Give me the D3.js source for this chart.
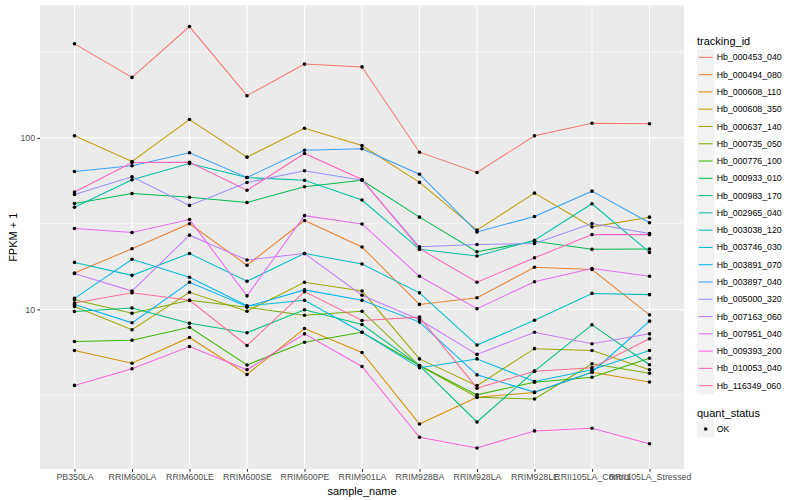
<!DOCTYPE html>
<html>
<head>
<meta charset="utf-8">
<script src="https://cdn.jsdelivr.net/npm/d3@7"></script>
<style>
  html, body { margin: 0; padding: 0; background: #ffffff; }
  svg { display: block; }
  text { font-family: "Liberation Sans", Arial, Helvetica, sans-serif; }
</style>
</head>
<body>
<svg id="chart" width="800" height="500"></svg>
<script>
// ---------------- data ----------------
const samples = ["PB350LA", "RRIM600LA", "RRIM600LE", "RRIM600SE", "RRIM600PE", "RRIM901LA",
  "RRIM928BA", "RRIM928LA", "RRIM928LE", "RRII105LA_Control", "RRII105LA_Stressed"];

const trackingIds = ["Hb_000453_040", "Hb_000494_080", "Hb_000608_110", "Hb_000608_350",
  "Hb_000637_140", "Hb_000735_050", "Hb_000776_100", "Hb_000933_010", "Hb_000983_170",
  "Hb_002965_040", "Hb_003038_120", "Hb_003746_030", "Hb_003891_070", "Hb_003897_040",
  "Hb_005000_320", "Hb_007163_060", "Hb_007951_040", "Hb_009393_200", "Hb_010053_040",
  "Hb_116349_060"];

const seriesColors = ["#F8766D", "#EA8331", "#D89000", "#C09B00", "#A3A500", "#7CAE00",
  "#39B600", "#00BB4E", "#00BF7D", "#00C1A3", "#00BFC4", "#00BAE0", "#00B0F6", "#35A2FF",
  "#9590FF", "#C77CFF", "#E76BF3", "#FA62DB", "#FF62BC", "#FF6C91"];

// FPKM + 1 per sample (same order as samples)
const v_000453_040 = [353, 225, 445, 176, 269, 259, 82.5, 62.8, 102.7, 121.7, 120.7];
const v_000494_080 = [16.3, 22.6, 31.6, 18.1, 33.0, 23.1, 10.7, 11.7, 17.6, 17.1, 9.3];
const v_000608_110 = [5.77, 4.86, 6.87, 4.18, 7.74, 5.61, 2.15, 3.08, 3.28, 4.31, 3.78];
const v_000608_350 = [102.7, 72.8, 127.8, 77.2, 113.8, 90.2, 55.0, 29.0, 47.6, 30.3, 34.5];
const v_000637_140 = [10.4, 7.62, 12.6, 9.77, 14.4, 12.8, 5.15, 3.60, 5.91, 5.77, 4.45];
const v_000735_050 = [11.4, 9.51, 11.3, 10.3, 9.26, 9.77, 4.71, 3.08, 3.01, 4.82, 4.25];
const v_000776_100 = [6.50, 6.62, 7.88, 4.75, 6.44, 7.37, 4.71, 3.18, 3.77, 4.03, 5.20];
const v_000933_010 = [41.4, 47.4, 45.1, 42.0, 51.9, 56.6, 34.5, 21.7, 25.0, 22.4, 22.5];
const v_000983_170 = [9.73, 10.2, 8.32, 7.32, 9.96, 8.17, 4.71, 2.21, 4.37, 8.14, 4.76];
const v_002965_040 = [39.4, 56.9, 70.8, 58.7, 56.6, 43.4, 22.4, 20.5, 25.3, 41.3, 21.5];
const v_003038_120 = [18.8, 15.8, 21.2, 14.6, 21.2, 18.4, 12.5, 6.2, 8.65, 12.4, 12.2];
const v_003746_030 = [11.6, 19.6, 15.4, 10.5, 11.3, 7.37, 4.57, 5.15, 3.80, 4.45, 5.77];
const v_003891_070 = [10.7, 8.36, 14.4, 10.4, 13.0, 11.3, 8.44, 4.16, 3.30, 4.31, 8.55];
const v_003897_040 = [63.7, 68.7, 81.8, 58.7, 84.7, 86.3, 61.4, 28.3, 34.8, 48.9, 32.0];
const v_005000_320 = [46.8, 59.3, 40.4, 54.9, 64.3, 56.6, 23.2, 23.9, 24.2, 31.7, 27.7];
const v_007163_060 = [16.2, 12.8, 27.1, 19.4, 21.2, 12.1, 8.7, 5.47, 7.37, 6.31, 7.21];
const v_007951_040 = [29.6, 28.1, 33.4, 12.0, 35.2, 31.5, 15.6, 10.1, 14.5, 17.3, 15.6];
const v_009393_200 = [3.61, 4.51, 6.08, 4.45, 7.21, 4.65, 1.80, 1.56, 1.96, 2.03, 1.65];
const v_010053_040 = [48.4, 71.8, 72.1, 49.5, 81.1, 57.2, 22.6, 14.4, 20.0, 27.3, 27.3];
const v_116349_060 = [10.9, 12.5, 11.3, 6.17, 12.7, 8.62, 9.02, 3.48, 4.37, 4.57, 6.75];

const seriesValues = [v_000453_040, v_000494_080, v_000608_110, v_000608_350, v_000637_140,
  v_000735_050, v_000776_100, v_000933_010, v_000983_170, v_002965_040, v_003038_120,
  v_003746_030, v_003891_070, v_003897_040, v_005000_320, v_007163_060, v_007951_040,
  v_009393_200, v_010053_040, v_116349_060];

const yMajorTicks = [10, 100];
const yMinorTicks = [Math.pow(10, 0.5), Math.pow(10, 1.5), Math.pow(10, 2.5)];
const quantStatus = ["OK"];

// ---------------- layout ----------------
const W = 800, H = 500;
const panel = { left: 40, right: 684, top: 5.5, bottom: 469 };

const svg = d3.select("#chart");

const series = trackingIds.map((id, i) => ({
  id, color: seriesColors[i],
  points: samples.map((s, j) => ({ sample: s, value: seriesValues[i][j] }))
}));

const allVals = seriesValues.flat();
const lmin = Math.log10(d3.min(allVals)), lmax = Math.log10(d3.max(allVals));
const ex = (lmax - lmin) * 0.05;

const x = d3.scalePoint().domain(samples).range([panel.left, panel.right]).padding(0.6);
const y = d3.scaleLog().domain([Math.pow(10, lmin - ex), Math.pow(10, lmax + ex)])
  .range([panel.bottom, panel.top]);

// panel background
svg.append("rect")
  .attr("x", panel.left).attr("y", panel.top)
  .attr("width", panel.right - panel.left).attr("height", panel.bottom - panel.top)
  .attr("fill", "#EBEBEB");

const grid = svg.append("g");
grid.selectAll("line.minor").data(yMinorTicks).enter().append("line")
  .attr("x1", panel.left).attr("x2", panel.right)
  .attr("y1", d => y(d)).attr("y2", d => y(d))
  .attr("stroke", "#ffffff").attr("stroke-width", 0.53);
grid.selectAll("line.major").data(yMajorTicks).enter().append("line")
  .attr("x1", panel.left).attr("x2", panel.right)
  .attr("y1", d => y(d)).attr("y2", d => y(d))
  .attr("stroke", "#ffffff").attr("stroke-width", 1.07);
grid.selectAll("line.xmajor").data(samples).enter().append("line")
  .attr("x1", d => x(d)).attr("x2", d => x(d))
  .attr("y1", panel.top).attr("y2", panel.bottom)
  .attr("stroke", "#ffffff").attr("stroke-width", 1.07);

// lines
const line = d3.line().x(d => x(d.sample)).y(d => y(d.value));
svg.append("g").selectAll("path").data(series).enter().append("path")
  .attr("d", d => line(d.points))
  .attr("fill", "none").attr("stroke", d => d.color).attr("stroke-width", 1.05);

// points
svg.append("g").selectAll("circle")
  .data(series.flatMap(s => s.points)).enter().append("circle")
  .attr("cx", d => x(d.sample)).attr("cy", d => y(d.value))
  .attr("r", 1.8).attr("fill", "#000000");

// axes
const xAxis = d3.axisBottom(x).tickSize(2.75).tickPadding(2.2);
const gx = svg.append("g").attr("transform", `translate(0,${panel.bottom})`).call(xAxis);
gx.select(".domain").remove();
gx.selectAll(".tick line").attr("stroke", "#333333").attr("stroke-width", 1.07);
gx.selectAll(".tick text").attr("fill", "#4D4D4D").style("font-size", "8.8px")
  .style("font-family", "'Liberation Sans', Arial, sans-serif");

const yAxis = d3.axisLeft(y).tickValues(yMajorTicks).tickFormat(d3.format("d"))
  .tickSize(2.75).tickPadding(2.2);
const gy = svg.append("g").attr("transform", `translate(${panel.left},0)`).call(yAxis);
gy.select(".domain").remove();
gy.selectAll(".tick line").attr("stroke", "#333333").attr("stroke-width", 1.07);
gy.selectAll(".tick text").attr("fill", "#4D4D4D").style("font-size", "8.8px")
  .style("font-family", "'Liberation Sans', Arial, sans-serif");

// axis titles
svg.append("text")
  .attr("x", (panel.left + panel.right) / 2).attr("y", 495)
  .attr("text-anchor", "middle").style("font-size", "11px").attr("fill", "#000")
  .text("sample_name");
svg.append("text")
  .attr("transform", `translate(17,${(panel.top + panel.bottom) / 2}) rotate(-90)`)
  .attr("text-anchor", "middle").style("font-size", "11px").attr("fill", "#000")
  .text("FPKM + 1");

// legend: tracking_id
const lg = { x: 697, key: 17.28 };
svg.append("text").attr("x", lg.x).attr("y", 44.5)
  .style("font-size", "11px").attr("fill", "#000").text("tracking_id");
const keyTop = 48.7;
const keys = svg.append("g").selectAll("g").data(series).enter().append("g")
  .attr("transform", (d, i) => `translate(${lg.x},${keyTop + i * lg.key})`);
keys.append("rect").attr("width", lg.key).attr("height", lg.key).attr("fill", "#F2F2F2");
keys.append("line").attr("x1", 1.7).attr("x2", lg.key - 1.7)
  .attr("y1", lg.key / 2).attr("y2", lg.key / 2)
  .attr("stroke", d => d.color).attr("stroke-width", 1.05);
keys.append("text").attr("x", lg.key + 2.4).attr("y", lg.key / 2).attr("dy", "0.35em")
  .style("font-size", "8.8px").attr("fill", "#000").text(d => d.id);

// legend: quant_status
svg.append("text").attr("x", lg.x).attr("y", 416.5)
  .style("font-size", "11px").attr("fill", "#000").text("quant_status");
const qk = svg.append("g").selectAll("g").data(quantStatus).enter().append("g")
  .attr("transform", (d, i) => `translate(${lg.x},${420.4 + i * lg.key})`);
qk.append("rect").attr("width", lg.key).attr("height", lg.key).attr("fill", "#F2F2F2");
qk.append("circle").attr("cx", lg.key / 2).attr("cy", lg.key / 2).attr("r", 1.8).attr("fill", "#000");
qk.append("text").attr("x", lg.key + 2.4).attr("y", lg.key / 2).attr("dy", "0.35em")
  .style("font-size", "8.8px").attr("fill", "#000").text(d => d);
</script>
</body>
</html>
